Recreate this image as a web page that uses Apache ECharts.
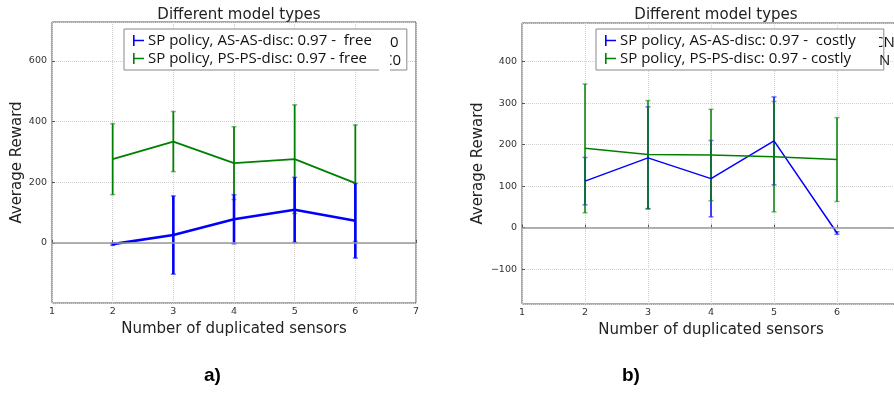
<!DOCTYPE html>
<html>
<head>
<meta charset="utf-8">
<script src="https://cdn.jsdelivr.net/npm/echarts@6/dist/echarts.min.js"></script>
<style>
  html, body { margin: 0; padding: 0; background: #fff; }
  #chart { width: 894px; height: 395px; }
</style>
</head>
<body>
<div id="chart"></div>
<script>
// number of duplicated sensors
const sensors = [2, 3, 4, 5, 6];

// a) free
const freeAsName = 'SP policy, AS-AS-disc: 0.97 -  free';
const freeAsMean = [-4, 26, 78, 109, 73];
const freeAsErr = [4, 129, 81, 107, 123];
const freePsName = 'SP policy, PS-PS-disc: 0.97 - free';
const freePsMean = [276, 334, 263, 276, 197];
const freePsErr = [117, 99, 120, 179, 192];

// b) costly
const costlyAsName = 'SP policy, AS-AS-disc: 0.97 -  costly';
const costlyAsMean = [112, 168, 118, 209, -13];
const costlyAsErr = [57, 123, 92, 106, 3];
const costlyPsName = 'SP policy, PS-PS-disc: 0.97 - costly';
const costlyPsMean = [191, 176, 175, 171, 164];
const costlyPsErr = [155, 130, 110, 133, 101];

const BLUE = '#0000ff';
const GREEN = '#008000';
const tickFont = 'DejaVu Sans';
const textFont = 'Open Sans';
const errIcon = 'path://M0,0h1.6v11h-1.6z M0,4.8h11v1.4h-11z';

function pts(means) {
  return sensors.map((x, i) => [x, means[i]]);
}
function bars(means, errs) {
  return sensors.map((x, i) => [x, means[i] - errs[i], means[i] + errs[i]]);
}

function lineSeries(name, means, color, width, idx) {
  return {
    name: name,
    type: 'line',
    xAxisIndex: idx,
    yAxisIndex: idx,
    data: pts(means),
    symbol: 'none',
    lineStyle: { color: color, width: width },
    itemStyle: { color: color },
    animation: false,
    z: 3
  };
}

function errSeries(name, means, errs, color, width, idx) {
  return {
    name: name,
    type: 'custom',
    xAxisIndex: idx,
    yAxisIndex: idx,
    data: bars(means, errs),
    animation: false,
    z: 3,
    renderItem: function (params, api) {
      const x = api.value(0);
      const lo = api.coord([x, api.value(1)]);
      const hi = api.coord([x, api.value(2)]);
      const cap = 2.5;
      const capStyle = { stroke: color, lineWidth: 1.5, opacity: 0.55 };
      return {
        type: 'group',
        children: [
          { type: 'line', shape: { x1: lo[0], y1: lo[1], x2: hi[0], y2: hi[1] },
            style: { stroke: color, lineWidth: width } },
          { type: 'line', shape: { x1: lo[0] - cap, y1: lo[1], x2: lo[0] + cap, y2: lo[1] }, style: capStyle },
          { type: 'line', shape: { x1: hi[0] - cap, y1: hi[1], x2: hi[0] + cap, y2: hi[1] }, style: capStyle }
        ]
      };
    }
  };
}

function xAxis(idx, showMax) {
  return {
    type: 'value',
    gridIndex: idx,
    min: 1,
    max: 7,
    interval: 1,
    name: 'Number of duplicated sensors',
    nameLocation: 'middle',
    nameGap: 11,
    nameTextStyle: { fontFamily: tickFont, fontSize: 15, color: '#222', verticalAlign: 'top' },
    axisLine: { show: false },
    axisTick: { show: true, inside: true, length: 3, lineStyle: { color: '#555' } },
    axisLabel: { fontFamily: tickFont, fontSize: 9.5, color: '#333', margin: 4, showMaxLabel: showMax },
    splitLine: { show: true, lineStyle: { color: '#d0d0d0', type: 'dotted' } }
  };
}

function yAxis(idx, min, max, step, gap) {
  return {
    type: 'value',
    gridIndex: idx,
    min: min,
    max: max,
    minInterval: step,
    maxInterval: step,
    name: 'Average Reward',
    nameLocation: 'middle',
    nameGap: gap,
    nameTextStyle: { fontFamily: tickFont, fontSize: 15, color: '#222' },
    axisLine: { show: false },
    axisTick: { show: true, inside: true, length: 3, lineStyle: { color: '#555' } },
    axisLabel: {
      fontFamily: tickFont, fontSize: 9.5, color: '#333', margin: 5,
      showMinLabel: false, showMaxLabel: false,
      formatter: v => (v < 0 ? '\u2212' + (-v) : String(v))
    },
    splitLine: { show: true, lineStyle: { color: '#d0d0d0', type: 'dotted' } }
  };
}

function legend(left, top, names, colors, padRight) {
  return {
    orient: 'vertical',
    left: left,
    top: top,
    itemWidth: 11,
    itemHeight: 11,
    itemGap: 3,
    padding: [4, padRight, 4, 9],
    backgroundColor: '#fff',
    borderColor: '#888',
    borderWidth: 1,
    borderRadius: 0,
    textStyle: { fontFamily: textFont, fontSize: 15, color: '#111', padding: [0, 0, 0, -1] },
    data: names.map((n, i) => ({ name: n, icon: errIcon, itemStyle: { color: colors[i] } })),
    z: 10
  };
}

const zeroLine = {
  silent: true,
  symbol: ['none', 'none'],
  label: { show: false },
  lineStyle: { color: '#999', width: 1.5, type: 'solid' },
  data: [{ yAxis: 0 }],
  animation: false
};

const freePsLine = lineSeries(freePsName, freePsMean, GREEN, 1.8, 0);
freePsLine.markLine = zeroLine;
const costlyAsLine = lineSeries(costlyAsName, costlyAsMean, BLUE, 1.5, 1);
costlyAsLine.markLine = zeroLine;

const option = {
  backgroundColor: '#fff',
  animation: false,
  title: [
    { text: 'Different model types', left: 234, top: 3, textAlign: 'center',
      textStyle: { fontFamily: tickFont, fontSize: 15, fontWeight: 'normal', color: '#222' } },
    { text: 'Different model types', left: 711, top: 3, textAlign: 'center',
      textStyle: { fontFamily: tickFont, fontSize: 15, fontWeight: 'normal', color: '#222' } }
  ],
  grid: [
    { left: 52, top: 22, width: 364, height: 281, show: true, borderColor: '#555', borderWidth: 1,
      backgroundColor: '#fff', outerBoundsMode: 'none' },
    // the right panel runs past the picture's edge (x = 7 is cut off)
    { left: 522, top: 23, width: 378, height: 281, show: true, borderColor: '#555', borderWidth: 1,
      backgroundColor: '#fff', outerBoundsMode: 'none' }
  ],
  xAxis: [xAxis(0, true), xAxis(1, false)],
  yAxis: [yAxis(0, -198, 728, 200, 25), yAxis(1, -184, 493, 100, 36)],
  legend: [
    legend(124, 29, [freeAsName, freePsName], [BLUE, GREEN], 35),
    legend(596, 29, [costlyAsName, costlyPsName], [BLUE, GREEN], 28)
  ],
  series: [
    freePsLine,
    errSeries(freePsName, freePsMean, freePsErr, GREEN, 1.8, 0),
    lineSeries(freeAsName, freeAsMean, BLUE, 2.6, 0),
    errSeries(freeAsName, freeAsMean, freeAsErr, BLUE, 2.6, 0),
    costlyAsLine,
    errSeries(costlyAsName, costlyAsMean, costlyAsErr, BLUE, 1.5, 1),
    lineSeries(costlyPsName, costlyPsMean, GREEN, 1.5, 1),
    errSeries(costlyPsName, costlyPsMean, costlyPsErr, GREEN, 1.5, 1)
  ],
  graphic: [
    // clipped fragments of a hidden legend behind the visible one
    { type: 'text', left: 390, top: 35, z: 20, style: { text: '0', font: '15px "Open Sans"', fill: '#111' } },
    { type: 'text', left: 383, top: 53, z: 20, style: { text: 'C0', font: '15px "Open Sans"', fill: '#111' } },
    { type: 'rect', shape: { x: 379, y: 53, width: 11, height: 18 }, z: 21, style: { fill: '#fff' } },
    { type: 'text', left: 874, top: 35, z: 20, style: { text: 'CN', font: '15px "Open Sans"', fill: '#111' } },
    { type: 'rect', shape: { x: 869, y: 35, width: 10, height: 18 }, z: 21, style: { fill: '#fff' } },
    { type: 'text', left: 879, top: 53, z: 20, style: { text: 'N', font: '15px "Open Sans"', fill: '#111' } },
    // panel labels
    { type: 'text', left: 204, top: 366, style: { text: 'a)', font: 'bold 19px "Liberation Sans"', fill: '#000' } },
    { type: 'text', left: 622, top: 366, style: { text: 'b)', font: 'bold 19px "Liberation Sans"', fill: '#000' } }
  ]
};

const chart = echarts.init(document.getElementById('chart'), null, { renderer: 'canvas' });
chart.setOption(option);
</script>
</body>
</html>
